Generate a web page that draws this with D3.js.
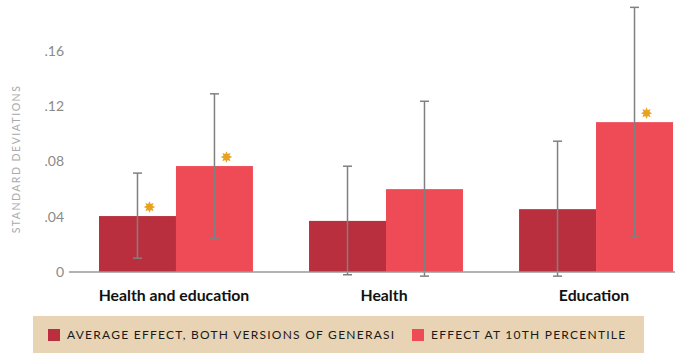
<!DOCTYPE html>
<html><head><meta charset="utf-8">
<script src="https://cdn.jsdelivr.net/npm/d3@7"></script>
<style>
html,body{margin:0;padding:0;background:#fff;}
svg{display:block;}
</style></head>
<body>
<svg id="chart" width="680" height="353"></svg>
<script>
const categories = ["Health and education", "Health", "Education"];
const seriesNames = ["AVERAGE EFFECT, BOTH VERSIONS OF GENERASI", "EFFECT AT 10TH PERCENTILE"];
const averageEffect = [0.0405, 0.037, 0.0455];
const averageLow = [0.010, -0.002, -0.003];
const averageHigh = [0.0716, 0.0766, 0.0947];
const averageSig = [true, false, false];
const tenthEffect = [0.0767, 0.060, 0.1085];
const tenthLow = [0.024, -0.003, 0.0253];
const tenthHigh = [0.129, 0.1236, 0.1916];
const tenthSig = [true, false, true];
const tickValues = [0, 0.04, 0.08, 0.12, 0.16];
const tickLabels = ["0", ".04", ".08", ".12", ".16"];
const yTitle = "STANDARD DEVIATIONS";

const colors = ["#b92f3d", "#ef4b57"];
const svg = d3.select("#chart");

const x0 = d3.scaleBand().domain(categories).range([71, 701]).paddingInner(0.267).paddingOuter(0.1333);
const x1 = d3.scaleBand().domain([0, 1]).range([0, x0.bandwidth()]);
const y = d3.scaleLinear().domain([0, 0.16]).range([272, 51]);

const rows = categories.map((c, i) => ({
  cat: c,
  vals: [
    {s: 0, v: averageEffect[i], lo: averageLow[i], hi: averageHigh[i], sig: averageSig[i]},
    {s: 1, v: tenthEffect[i], lo: tenthLow[i], hi: tenthHigh[i], sig: tenthSig[i]}
  ]
}));

// y axis tick labels
const yAxis = d3.axisLeft(y).tickValues(tickValues).tickFormat((d, i) => tickLabels[i]).tickSize(0).tickPadding(0);
const ga = svg.append("g").attr("transform", "translate(64,0)").call(yAxis);
ga.select(".domain").remove();
ga.selectAll("text").attr("fill", "#8a8a8a").style("font-family", "Lato, sans-serif").style("font-size", "14px");

// y title
svg.append("text")
  .attr("transform", "translate(20,159) rotate(-90)")
  .attr("text-anchor", "middle")
  .attr("fill", "#aaaaaa")
  .style("font-family", "Lato, sans-serif")
  .style("font-size", "10.5px")
  .style("letter-spacing", "1.5px")
  .text(yTitle);

// bars
const g = svg.append("g");
const grp = g.selectAll("g.grp").data(rows).join("g").attr("class", "grp")
  .attr("transform", d => `translate(${x0(d.cat)},0)`);

grp.selectAll("rect").data(d => d.vals).join("rect")
  .attr("x", d => x1(d.s))
  .attr("y", d => y(d.v))
  .attr("width", x1.bandwidth())
  .attr("height", d => y(0) - y(d.v))
  .attr("fill", d => colors[d.s]);

// axis baseline
svg.append("line").attr("x1", 69).attr("x2", 675).attr("y1", y(0)).attr("y2", y(0))
  .attr("stroke", "#999").attr("stroke-width", 1.5);

// error bars
const eb = grp.selectAll("g.eb").data(d => d.vals).join("g").attr("class", "eb")
  .attr("transform", d => `translate(${x1(d.s) + x1.bandwidth() / 2},0)`);
eb.append("line").attr("x1", 0).attr("x2", 0).attr("y1", d => y(d.lo)).attr("y2", d => y(d.hi))
  .attr("stroke", "#808080").attr("stroke-width", 1.5);
eb.append("line").attr("x1", -4.5).attr("x2", 4.5).attr("y1", d => y(d.lo)).attr("y2", d => y(d.lo))
  .attr("stroke", "#808080").attr("stroke-width", 1.5);
eb.append("line").attr("x1", -4.5).attr("x2", 4.5).attr("y1", d => y(d.hi)).attr("y2", d => y(d.hi))
  .attr("stroke", "#808080").attr("stroke-width", 1.5);

// significance stars (8-point)
const starPts = d3.range(16).map(k => [k * Math.PI / 8, k % 2 === 0 ? 5.8 : 3.2]);
const starPath = d3.lineRadial().curve(d3.curveLinearClosed)(starPts);
eb.filter(d => d.sig).append("path")
  .attr("d", starPath)
  .attr("transform", d => `translate(12,${y(d.v) - 9})`)
  .attr("fill", "#e9a21f");

// category labels
svg.selectAll("text.cat").data(categories).join("text").attr("class", "cat")
  .attr("x", d => x0(d) + x0.bandwidth() / 2 - 2)
  .attr("y", 301)
  .attr("text-anchor", "middle")
  .attr("fill", "#111")
  .style("font-family", "Lato, sans-serif")
  .style("font-weight", "700")
  .style("font-size", "15.8px")
  .text(d => d);

// legend
svg.append("rect").attr("x", 33).attr("y", 316).attr("width", 611).attr("height", 37).attr("fill", "#e8d4b4");
const legX = [48, 412];
const lg = svg.selectAll("g.leg").data(seriesNames).join("g").attr("class", "leg")
  .attr("transform", (d, i) => `translate(${legX[i]},329)`);
lg.append("rect").attr("width", 12).attr("height", 12).attr("fill", (d, i) => colors[i]);
lg.append("text").attr("x", 19).attr("y", 6).attr("dy", "0.36em")
  .attr("fill", "#1a1a1a")
  .style("font-family", "Lato, sans-serif")
  .style("font-size", "12px")
  .style("letter-spacing", "1.25px")
  .text(d => d);
</script>
</body></html>
